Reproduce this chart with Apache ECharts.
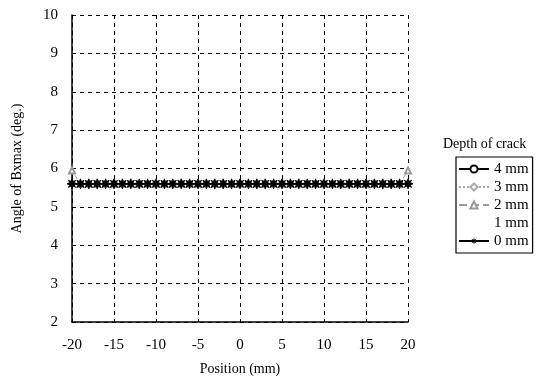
<!DOCTYPE html>
<html><head><meta charset="utf-8">
<script src="https://cdn.jsdelivr.net/npm/echarts@6/dist/echarts.min.js"></script>
<style>html,body{margin:0;padding:0;background:#fff}#c{width:549px;height:391px}</style>
</head><body><div id="c"></div>
<script>
var positions = [-20,-19,-18,-17,-16,-15,-14,-13,-12,-11,-10,-9,-8,-7,-6,-5,-4,-3,-2,-1,0,1,2,3,4,5,6,7,8,9,10,11,12,13,14,15,16,17,18,19,20];
var depth4 = [5.6,5.6,5.6,5.6,5.6,5.6,5.6,5.6,5.6,5.6,5.6,5.6,5.6,5.6,5.6,5.6,5.6,5.6,5.6,5.6,5.6,5.6,5.6,5.6,5.6,5.6,5.6,5.6,5.6,5.6,5.6,5.6,5.6,5.6,5.6,5.6,5.6,5.6,5.6,5.6,5.6];
var depth3 = [5.6,5.6,5.6,5.6,5.6,5.6,5.6,5.6,5.6,5.6,5.6,5.6,5.6,5.6,5.6,5.6,5.6,5.6,5.6,5.6,5.6,5.6,5.6,5.6,5.6,5.6,5.6,5.6,5.6,5.6,5.6,5.6,5.6,5.6,5.6,5.6,5.6,5.6,5.6,5.6,5.6];
var depth2 = [5.95,5.6,5.6,5.6,5.6,5.6,5.6,5.6,5.6,5.6,5.6,5.6,5.6,5.6,5.6,5.6,5.6,5.6,5.6,5.6,5.6,5.6,5.6,5.6,5.6,5.6,5.6,5.6,5.6,5.6,5.6,5.6,5.6,5.6,5.6,5.6,5.6,5.6,5.6,5.6,5.95];
var depth1 = [5.6,5.6,5.6,5.6,5.6,5.6,5.6,5.6,5.6,5.6,5.6,5.6,5.6,5.6,5.6,5.6,5.6,5.6,5.6,5.6,5.6,5.6,5.6,5.6,5.6,5.6,5.6,5.6,5.6,5.6,5.6,5.6,5.6,5.6,5.6,5.6,5.6,5.6,5.6,5.6,5.6];
var depth0 = [5.6,5.6,5.6,5.6,5.6,5.6,5.6,5.6,5.6,5.6,5.6,5.6,5.6,5.6,5.6,5.6,5.6,5.6,5.6,5.6,5.6,5.6,5.6,5.6,5.6,5.6,5.6,5.6,5.6,5.6,5.6,5.6,5.6,5.6,5.6,5.6,5.6,5.6,5.6,5.6,5.6];
var seriesNames = ['4 mm','3 mm','2 mm','1 mm','0 mm'];

function pairs(v){ return positions.map(function(x,i){return [x, v[i]];}); }
var pts=[];
for (var k=0;k<16;k++){ var a=k*Math.PI/8; var r=(k%2===0)?5:2; pts.push((r*Math.cos(a)).toFixed(2)+','+(r*Math.sin(a)).toFixed(2)); }
var starPath='path://M'+pts.join(' L')+' Z';

var font='Liberation Serif';
var chart = echarts.init(document.getElementById('c'));
chart.setOption({
  animation:false,
  textStyle:{fontFamily:font,color:'#000'},
  grid:{left:72,right:141,top:15,bottom:69},
  title:{text:'Depth of crack',left:438,top:132,textStyle:{fontFamily:font,fontSize:14,fontWeight:'normal',color:'#000'}},
  legend:{
    orient:'vertical',left:456,top:157,
    data:seriesNames,
    itemWidth:30,itemHeight:9,itemGap:2,
    borderColor:'#000',borderWidth:1.2,padding:[4,4,4,2],
    textStyle:{fontFamily:font,fontSize:15,color:'#000',lineHeight:16}
  },
  xAxis:{
    type:'value',min:-20,max:20,interval:5,
    name:'Position (mm)',nameLocation:'middle',nameGap:40,
    nameTextStyle:{fontFamily:font,fontSize:14,color:'#000'},
    axisLine:{onZero:false,lineStyle:{color:'#000',width:1.5}},
    axisTick:{show:false},
    axisLabel:{fontFamily:font,fontSize:15,color:'#000',margin:16},
    splitLine:{show:true,lineStyle:{color:'#000',type:[4,4],width:1}}
  },
  yAxis:{
    type:'value',min:2,max:10,interval:1,
    name:'Angle of Bxmax (deg.)',nameLocation:'middle',nameGap:48,
    nameTextStyle:{fontFamily:font,fontSize:14,color:'#000'},
    axisLine:{show:true,onZero:false,lineStyle:{color:'#000',width:1.5}},
    axisTick:{show:false},
    axisLabel:{fontFamily:font,fontSize:15,color:'#000',margin:14},
    splitLine:{show:true,lineStyle:{color:'#000',type:[4,4],width:1}}
  },
  series:[
    {name:'4 mm',type:'line',data:pairs(depth4),symbol:'emptyCircle',symbolSize:5,
     lineStyle:{color:'#000',width:1},itemStyle:{color:'#000',borderColor:'#000'}},
    {name:'3 mm',type:'line',data:pairs(depth3),symbol:'emptyDiamond',symbolSize:6,
     lineStyle:{color:'#aaa',width:1,type:'dotted'},itemStyle:{color:'#aaa',borderColor:'#aaa'}},
    {name:'2 mm',type:'line',data:pairs(depth2),symbol:'emptyTriangle',symbolSize:6,
     lineStyle:{color:'#999',width:1,type:'dashed'},itemStyle:{color:'#999',borderColor:'#999'}},
    {name:'1 mm',type:'line',data:pairs(depth1),symbol:'none',
     lineStyle:{color:'#fff',width:1,opacity:0},itemStyle:{color:'#fff',opacity:0}},
    {name:'0 mm',type:'line',data:pairs(depth0),symbol:starPath,symbolSize:10,
     lineStyle:{color:'#000',width:1.5},itemStyle:{color:'#000',borderColor:'#000'}}
  ]
});
</script></body></html>
